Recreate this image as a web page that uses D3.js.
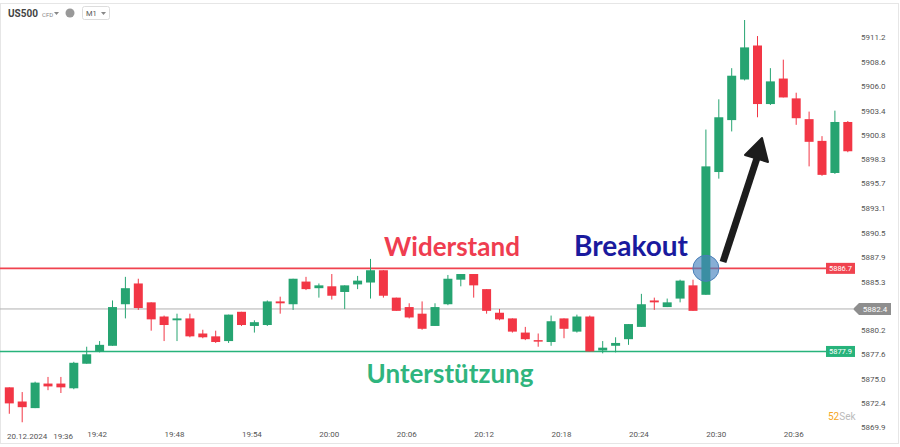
<!DOCTYPE html>
<html><head><meta charset="utf-8">
<script src="https://cdn.jsdelivr.net/npm/d3@7/dist/d3.min.js"></script>
<style>body{margin:0;background:#fff}svg{display:block;font-family:Roboto,"Noto Sans",sans-serif}</style>
</head><body><svg id="c" width="900" height="447"></svg>
<script>
// candle data: [open, high, low, close], one per minute starting 19:35
const ohlc = [
[5874.1,5874.1,5871.3,5872.4],[5872.6,5873.6,5870.4,5872.0],[5871.9,5874.7,5871.9,5874.6],[5874.5,5875.2,5873.8,5874.2],
[5874.5,5875.2,5873.5,5874.1],[5874.0,5876.8,5873.9,5876.7],[5876.6,5878.4,5876.6,5877.6],[5877.9,5879.0,5877.8,5878.6],
[5878.5,5883.3,5878.5,5882.6],[5882.9,5885.8,5881.4,5884.6],[5885.1,5885.6,5882.3,5882.5],[5883.1,5883.1,5880.1,5881.3],
[5881.6,5881.7,5879.0,5880.7],[5881.2,5881.9,5879.0,5881.4],[5881.4,5881.9,5879.4,5879.5],[5879.8,5880.2,5879.3,5879.4],
[5879.5,5880.1,5878.8,5878.9],[5879.0,5881.8,5878.8,5881.8],[5882.1,5882.1,5880.6,5880.7],[5880.6,5881.2,5879.9,5881.0],
[5880.7,5883.3,5880.6,5883.2],[5883.2,5883.7,5881.9,5883.0],[5882.9,5885.6,5882.3,5885.6],[5885.3,5885.8,5884.4,5884.5],
[5884.6,5885.1,5883.6,5884.9],[5884.8,5886.1,5883.4,5883.8],[5884.2,5884.9,5882.4,5884.9],[5885.0,5885.9,5884.5,5885.4],
[5885.2,5887.7,5883.5,5886.5],[5886.5,5886.5,5883.6,5883.8],[5883.6,5883.6,5882.2,5882.2],[5882.6,5883.0,5881.4,5881.5],
[5881.9,5883.2,5880.2,5880.3],[5880.6,5883.0,5880.6,5882.6],[5882.9,5886.0,5882.8,5885.6],[5885.5,5886.1,5884.8,5886.1],
[5886.1,5886.1,5883.6,5884.9],[5884.5,5884.5,5881.9,5882.2],[5882.0,5882.4,5881.2,5881.3],[5881.4,5881.4,5879.9,5880.0],
[5879.9,5880.5,5879.1,5879.2],[5879.1,5879.8,5878.4,5879.0],[5878.9,5881.7,5878.5,5881.1],[5881.4,5881.4,5879.3,5880.3],
[5880.0,5881.8,5879.9,5881.6],[5881.6,5881.7,5877.9,5877.9],[5878.0,5879.0,5877.7,5878.3],[5878.5,5879.4,5877.8,5878.8],
[5879.2,5880.8,5878.6,5880.8],[5880.5,5884.0,5880.5,5882.9],[5883.3,5883.6,5882.3,5883.1],[5882.6,5883.5,5882.6,5883.1],
[5883.5,5885.5,5883.1,5885.4],[5884.9,5885.5,5882.2,5882.2],[5883.9,5901.4,5883.9,5897.5],[5896.9,5904.6,5896.2,5902.7],
[5902.4,5907.9,5901.2,5907.1],[5906.7,5913.0,5906.6,5910.1],[5910.3,5911.3,5902.7,5904.1],[5904.1,5907.9,5904.0,5906.5],
[5906.8,5908.8,5904.8,5904.8],[5904.7,5905.3,5901.9,5902.6],[5902.5,5903.3,5897.5,5900.1],[5900.2,5900.7,5896.5,5896.6],
[5896.8,5903.4,5896.7,5902.2],[5902.2,5902.3,5899.0,5899.1]
];
const yTicks = [5911.2,5908.6,5906.0,5903.4,5900.8,5898.3,5895.7,5893.1,5890.5,5887.9,5885.3,5880.2,5877.6,5875.0,5872.4,5869.9];
const xTickIdx = [7,13,19,25,31,37,43,49,55,61];
const xTickLabels = ["19:42","19:48","19:54","20:00","20:06","20:12","20:18","20:24","20:30","20:36"];
const firstLabel = "20.12.2024   19:36";
const levels = [
  {v:5886.7, color:"#f0434f", label:"5886.7"},
  {v:5882.4, color:"#b0b0b0", label:"5882.4"},
  {v:5877.9, color:"#27b37b", label:"5877.9"}
];

const svg = d3.select("#c");
const x = d3.scaleLinear().domain([0,65]).range([9.3,847.8]);
const y = d3.scaleLinear().domain([5869.9,5911.2]).range([427,37]);
const G="#26a471", R="#f23645";

svg.append("rect").attr("x",0.5).attr("y",3.5).attr("width",898).attr("height",440).attr("fill","none").attr("stroke","#e6e6e6");

const h = svg.append("g");
h.append("text").attr("x",8).attr("y",17).attr("font-size",10).attr("font-weight","bold").attr("fill","#444").text("US500");
h.append("text").attr("x",42).attr("y",17).attr("font-size",6).attr("fill","#888").text("CFD");
h.append("path").attr("d","M54,12 l5,0 l-2.5,3z").attr("fill","#888");
h.append("circle").attr("cx",70).attr("cy",13).attr("r",4.5).attr("fill","#999");
h.append("rect").attr("x",82.5).attr("y",6.5).attr("width",27).attr("height",13).attr("rx",2).attr("fill","#fff").attr("stroke","#ddd");
h.append("text").attr("x",86).attr("y",16).attr("font-size",7.5).attr("fill","#555").text("M1");
h.append("path").attr("d","M101,12 l5,0 l-2.5,3z").attr("fill","#888");

const ya = d3.axisRight(y).tickValues(yTicks).tickSize(0).tickFormat(d3.format(".1f"));
const yg = svg.append("g").attr("transform","translate(858,0)").call(ya);
yg.select(".domain").remove();
yg.selectAll("text").attr("font-size",8).attr("fill","#555").attr("font-family","Roboto,sans-serif");

const xa = d3.axisBottom(x).tickValues(xTickIdx).tickSize(0).tickFormat((d,i)=>xTickLabels[i]);
const xg = svg.append("g").attr("transform","translate(-3,428)").call(xa);
xg.select(".domain").remove();
xg.selectAll("text").attr("font-size",8).attr("fill","#555").attr("font-family","Roboto,sans-serif");
svg.append("text").attr("x",7).attr("y",439).attr("font-size",8).attr("fill","#555").attr("xml:space","preserve").style("white-space","pre").text(firstLabel);

levels.forEach((l,i)=>{
  svg.append("line").attr("x1",0).attr("x2",i===1?853:827).attr("y1",y(l.v)).attr("y2",y(l.v))
    .attr("stroke",l.color).attr("stroke-width",i===1?1:1.6);
});

const cg = svg.append("g");
ohlc.forEach((d,i)=>{
  const [o,hi,lo,c]=d, col=c>=o?G:R, cx=x(i);
  cg.append("line").attr("x1",cx).attr("x2",cx).attr("y1",y(hi)).attr("y2",y(lo)).attr("stroke",col).attr("stroke-width",1);
  const t=y(Math.max(o,c)), b=y(Math.min(o,c));
  cg.append("rect").attr("x",cx-4.5).attr("y",t).attr("width",9).attr("height",Math.max(1.5,b-t)).attr("fill",col);
});

levels.forEach((l,i)=>{
  const yy=y(l.v);
  if(i===1){
    svg.append("path").attr("d",`M853,${yy} l6,-6 h32 v12 h-32z`).attr("fill","#8e8e8e");
    svg.append("text").attr("x",875).attr("y",yy+3).attr("text-anchor","middle").attr("font-size",8).attr("fill","#fff").text(l.label);
  } else {
    svg.append("rect").attr("x",826).attr("y",yy-5.5).attr("width",29).attr("height",11).attr("fill",l.color);
    svg.append("text").attr("x",840.5).attr("y",yy+3).attr("text-anchor","middle").attr("font-size",7.5).attr("fill","#fff").text(l.label);
  }
});

const ann = svg.append("g").attr("font-family","Lato,sans-serif").attr("font-weight","bold");
ann.append("text").attr("x",452).attr("y",256).attr("text-anchor","middle").attr("font-size",26).attr("fill","#ef3d50").text("Widerstand");
ann.append("text").attr("x",631).attr("y",256).attr("text-anchor","middle").attr("font-size",28).attr("fill","#1a1a9e").text("Breakout");
ann.append("text").attr("x",450).attr("y",383).attr("text-anchor","middle").attr("font-size",26).attr("fill","#2fb57e").text("Unterstützung");

svg.append("circle").attr("cx",x(54)).attr("cy",y(5886.7)).attr("r",13).attr("fill","rgba(70,130,190,0.65)").attr("stroke","#4a7fb8").attr("stroke-width",1);

svg.append("line").attr("x1",723).attr("y1",262).attr("x2",757).attr("y2",158).attr("stroke","#1d1d1d").attr("stroke-width",7);
svg.append("path").attr("d","M762,138 L768,162 L745,155 Z").attr("fill","#1d1d1d").attr("stroke","#1d1d1d").attr("stroke-width",2).attr("stroke-linejoin","round");

svg.append("text").attr("x",828).attr("y",420).attr("font-size",10).attr("fill","#f5a623").text("52").append("tspan").attr("fill","#bbb").text("Sek");
</script></body></html>
